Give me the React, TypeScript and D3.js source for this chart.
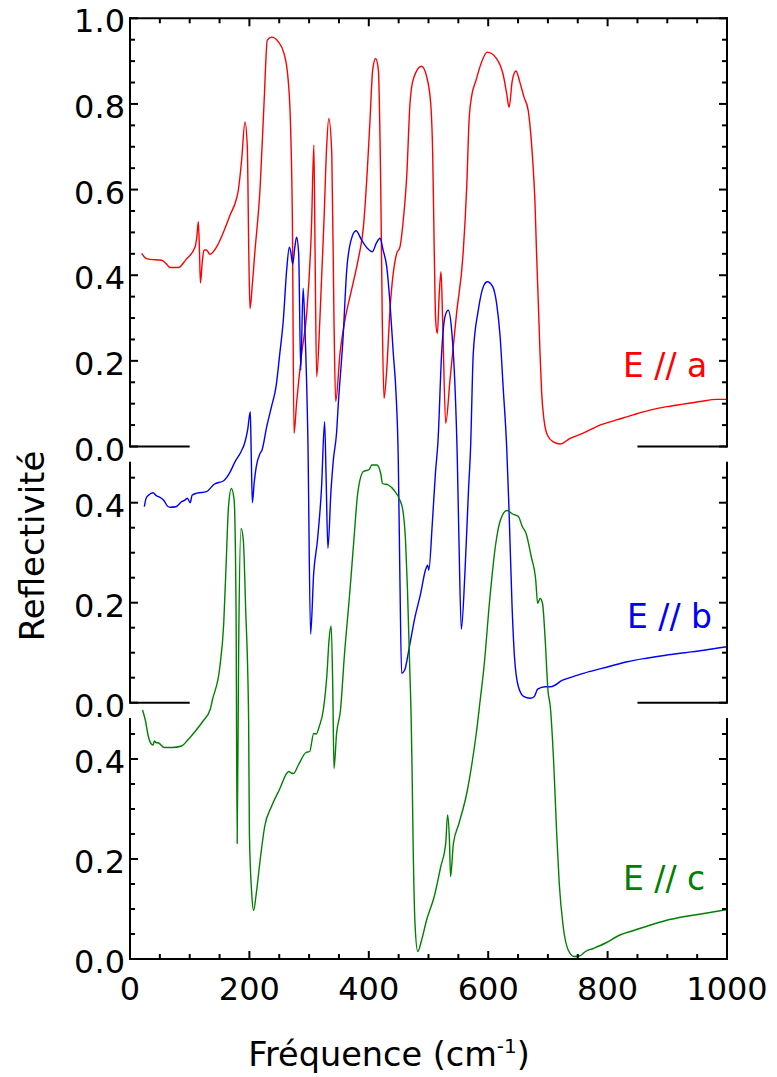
import React from "react";
import * as d3 from "d3";

const W = 777;
const H = 1077;

// Reflectivity spectra, [frequency (cm-1), reflectivity]
const specA: [number, number][] = [
  [19.6, 0.451], [26, 0.44], [33.5, 0.437], [53, 0.435], [60, 0.428], [67, 0.418], [81, 0.418],
  [94, 0.437], [109, 0.466], [112, 0.49], [114.5, 0.525], [116.5, 0.45], [118, 0.382], [121, 0.43],
  [124, 0.459], [128, 0.459], [134, 0.449], [145, 0.466], [159, 0.509], [167.5, 0.54], [177.6, 0.575],
  [181.5, 0.599], [187, 0.669], [192.6, 0.758], [196.5, 0.7], [199, 0.45], [201, 0.322], [205, 0.38],
  [209, 0.451], [218, 0.606], [224.5, 0.801], [230, 0.949], [237, 0.956], [248.5, 0.945], [258, 0.918],
  [265, 0.855], [269, 0.746], [272, 0.529], [274.7, 0.031], [279, 0.101], [287.6, 0.218], [296, 0.311],
  [304, 0.513], [308, 0.704], [310, 0.451], [312.7, 0.163], [318, 0.295], [325, 0.529], [329.4, 0.7],
  [333, 0.766], [338, 0.684], [341.7, 0.295], [344.5, 0.105], [351.8, 0.218], [360, 0.295], [371, 0.365],
  [382, 0.435], [391, 0.513], [397.5, 0.645], [402, 0.762], [406.5, 0.879], [411.5, 0.906], [416, 0.879],
  [420, 0.606], [422.6, 0.295], [425.5, 0.112], [430, 0.179], [435.5, 0.319], [446.7, 0.451], [452, 0.465],
  [457.8, 0.529], [463.5, 0.63], [469, 0.801], [475, 0.86], [488.5, 0.888], [497, 0.863], [503.7, 0.801],
  [507, 0.684], [509.7, 0.451], [512, 0.295], [514.8, 0.264], [518, 0.357], [521, 0.408], [523.7, 0.295],
  [528.8, 0.054], [536, 0.155], [547, 0.311], [558, 0.451], [564, 0.606], [568, 0.762], [572, 0.816],
  [579.6, 0.855], [586, 0.886], [598.5, 0.921], [614, 0.906], [625.3, 0.867], [631, 0.824], [635, 0.792],
  [640.4, 0.855], [646.6, 0.877], [653, 0.851], [660, 0.816], [667, 0.785], [671.7, 0.723], [675.6, 0.645],
  [678.4, 0.568], [681, 0.451], [684, 0.334], [686.8, 0.218], [689.6, 0.124], [693.5, 0.062], [699, 0.027],
  [709, 0.011], [721.4, 0.006], [737, 0.019], [759, 0.031], [787, 0.05], [815, 0.062], [843, 0.074],
  [871, 0.085], [899, 0.093], [927, 0.099], [955, 0.105], [983, 0.11], [1000, 0.11],
];

const specB: [number, number][] = [
  [24, 0.392], [27, 0.409], [31, 0.415], [38.5, 0.42], [44, 0.414], [48, 0.412], [56.4, 0.405],
  [63, 0.393], [67.3, 0.391], [77, 0.392], [86.5, 0.402], [92, 0.405], [96, 0.409], [101, 0.4],
  [104, 0.415], [112, 0.419], [128, 0.422], [141, 0.437], [157, 0.444], [166.7, 0.459], [176, 0.482],
  [186, 0.502], [192, 0.519], [197, 0.545], [201.5, 0.582], [203, 0.5], [205, 0.4], [208, 0.44],
  [211.5, 0.472], [218, 0.499], [221, 0.505], [229, 0.552], [237, 0.592], [244.6, 0.632], [251, 0.699],
  [256.8, 0.765], [262.4, 0.865], [266.9, 0.911], [269.5, 0.9], [272.5, 0.877], [276, 0.91], [279, 0.931],
  [282.5, 0.899], [286, 0.665], [290, 0.829], [293, 0.75], [298, 0.525], [302.5, 0.137], [307.7, 0.259],
  [314, 0.325], [320.6, 0.425], [326, 0.562], [328.5, 0.45], [331.5, 0.309], [336.7, 0.425], [340.6, 0.485],
  [346, 0.54], [349, 0.599], [357, 0.732], [363, 0.865], [369.6, 0.922], [378.6, 0.944], [388, 0.925],
  [397.5, 0.909], [406, 0.902], [413, 0.92], [418.8, 0.929], [424, 0.905], [430, 0.872], [435.5, 0.799],
  [441, 0.699], [445.6, 0.619], [449.4, 0.485], [452, 0.259], [455, 0.059], [460, 0.065], [468, 0.112],
  [477.5, 0.172], [487, 0.219], [494.8, 0.265], [498.7, 0.275], [500.5, 0.265], [506.4, 0.359],
  [511.6, 0.459], [516, 0.525], [522, 0.699], [527.6, 0.772], [533, 0.785], [538.8, 0.745], [544.4, 0.632],
  [548, 0.5], [551, 0.325], [555, 0.147], [561, 0.259], [567, 0.425], [570.5, 0.51], [575, 0.699],
  [583.4, 0.785], [591.8, 0.832], [598.5, 0.842], [607.5, 0.832], [614, 0.799], [620, 0.732], [625, 0.632],
  [631, 0.51], [634.7, 0.392], [640, 0.192], [644, 0.092], [650.6, 0.032], [660, 0.012], [670, 0.009],
  [677, 0.012], [682.8, 0.027], [695.5, 0.032], [705, 0.032], [724.5, 0.045], [750, 0.055], [769, 0.062],
  [801, 0.072], [833, 0.082], [865, 0.089], [897.5, 0.095], [929.5, 0.1], [961.5, 0.105], [1000, 0.112],
];

const specC: [number, number][] = [
  [21, 0.498], [25.6, 0.478], [30.8, 0.445], [35, 0.431], [38.5, 0.428], [41, 0.436], [43.5, 0.433],
  [48, 0.432], [57.6, 0.423], [70.5, 0.423], [86.6, 0.426], [96, 0.437], [109, 0.455], [121.8, 0.475],
  [134.6, 0.5], [138, 0.518], [150.6, 0.585], [157, 0.671], [161.5, 0.805], [165, 0.905], [169.8, 0.941],
  [174.4, 0.918], [177.6, 0.705], [179.5, 0.231], [182, 0.62], [186, 0.861], [189.8, 0.838], [193.6, 0.705],
  [198.7, 0.478], [200, 0.251], [203.9, 0.131], [207, 0.097], [211.5, 0.131], [218, 0.198], [225.6, 0.265],
  [237, 0.305], [250, 0.338], [266, 0.375], [270, 0.372], [274, 0.371], [282, 0.388], [294.8, 0.413],
  [301, 0.415], [307.7, 0.451], [312, 0.45], [317, 0.465], [323.8, 0.498], [330, 0.571], [333.4, 0.638],
  [337, 0.666], [339.7, 0.538], [341.7, 0.381], [346, 0.451], [352.6, 0.498], [359, 0.605], [368.5, 0.738],
  [375, 0.838], [381.4, 0.931], [391, 0.975], [400.7, 0.979], [405, 0.988], [413.4, 0.988], [420, 0.971],
  [423, 0.951], [432.7, 0.948], [442, 0.938], [452, 0.918], [457, 0.898], [461.5, 0.838], [464.8, 0.738],
  [468, 0.605], [471, 0.478], [472.4, 0.385], [474.4, 0.218], [477.6, 0.065], [482, 0.015], [488.5, 0.038],
  [496.8, 0.078], [509.6, 0.125], [520.6, 0.185], [528.8, 0.231], [532, 0.288], [535, 0.24], [537, 0.165],
  [541.7, 0.231], [551, 0.271], [564, 0.331], [573.7, 0.398], [580, 0.451], [586.6, 0.518], [593, 0.585],
  [602.5, 0.718], [612, 0.825], [620.5, 0.878], [631.5, 0.897], [641, 0.89], [650.6, 0.885], [657, 0.865],
  [663.5, 0.851], [672, 0.805], [679.6, 0.758], [682.8, 0.711], [687, 0.721], [691, 0.711], [695.5, 0.638],
  [700, 0.538], [704, 0.505], [710, 0.385], [714.7, 0.251], [719, 0.151], [725.6, 0.065], [734, 0.018],
  [743.7, 0.005], [753, 0.006], [763, 0.015], [775.6, 0.021], [795, 0.031], [820.6, 0.048], [846, 0.058],
  [872, 0.068], [897.5, 0.077], [929.5, 0.085], [961.5, 0.091], [1000, 0.099],
];

const xTickValues = [0, 200, 400, 600, 800, 1000];
const yTicksTop = [0, 0.2, 0.4, 0.6, 0.8, 1.0];
const yTicksLower = [0, 0.2, 0.4];
const seriesLabels = ["E // a", "E // b", "E // c"];
const seriesColors = ["#ff0000", "#0000ff", "#008000"];

const FONT = "'DejaVu Sans', Verdana, sans-serif";

const x = d3.scaleLinear().domain([0, 1000]).range([130, 727]);

type Panel = {
  y: d3.ScaleLinear<number, number>;
  majors: number[];
  max: number;
  top: boolean;
  bottom: boolean;
};

const panels: Panel[] = [
  { y: d3.scaleLinear().domain([0, 1]).range([446.5, 18.3]), majors: yTicksTop, max: 1, top: true, bottom: false },
  { y: d3.scaleLinear().domain([0, 0.48]).range([702.7, 462.7]), majors: yTicksLower, max: 0.48, top: false, bottom: false },
  { y: d3.scaleLinear().domain([0, 0.48]).range([959, 719]), majors: yTicksLower, max: 0.48, top: false, bottom: true },
];

const spectra = [specA, specB, specC];
const labelPos = [
  { x: 623, y: 377 },
  { x: 627, y: 628 },
  { x: 623, y: 890 },
];

const minorX = d3.range(0, 1001, 50);
const MAJ = 8;
const MIN = 5;

export default function App() {
  const left = x(0);
  const right = x(1000);
  return (
    <svg width={W} height={H} viewBox={`0 0 ${W} ${H}`} style={{ display: "block", position: "absolute", left: 0, top: 0, background: "#fff" }}>
      <rect width={W} height={H} fill="#fff" />
      {/* spectra */}
      {spectra.map((s, i) => {
        const line = d3
          .line<[number, number]>()
          .x((d) => x(d[0]))
          .y((d) => panels[i].y(d[1]))
          .curve(d3.curveMonotoneX);
        return <path key={i} d={line(s) || ""} fill="none" stroke={seriesColors[i]} strokeWidth={1.4} strokeLinejoin="round" />;
      })}
      {/* frames */}
      {panels.map((p, i) => {
        const yTop = p.y(p.max);
        const yBot = p.y(0);
        const minors = d3.range(0, p.max + 1e-9, 0.05).filter((v) => Math.abs(v / 0.2 - Math.round(v / 0.2)) > 1e-6);
        return (
          <g key={i} stroke="#000" strokeWidth={2} fill="none">
            <line x1={left} x2={left} y1={yTop} y2={yBot} strokeLinecap="square" />
            <line x1={right} x2={right} y1={yTop} y2={yBot} strokeLinecap="square" />
            {p.top && <line x1={left} x2={right} y1={yTop} y2={yTop} strokeLinecap="square" />}
            {p.bottom ? (
              <line x1={left} x2={right} y1={yBot} y2={yBot} strokeLinecap="square" />
            ) : (
              <>
                <line x1={left} x2={x(100)} y1={yBot} y2={yBot} />
                <line x1={x(850)} x2={right} y1={yBot} y2={yBot} />
              </>
            )}
            {p.majors.map((v) => (
              <g key={"M" + v}>
                <line x1={left} x2={left + MAJ} y1={p.y(v)} y2={p.y(v)} />
                <line x1={right} x2={right - MAJ} y1={p.y(v)} y2={p.y(v)} />
              </g>
            ))}
            {minors.map((v) => (
              <g key={"m" + v}>
                <line x1={left} x2={left + MIN} y1={p.y(v)} y2={p.y(v)} />
                <line x1={right} x2={right - MIN} y1={p.y(v)} y2={p.y(v)} />
              </g>
            ))}
            {(p.top || p.bottom) &&
              minorX.map((v) => {
                const len = v % 200 === 0 ? MAJ : MIN;
                const yy = p.top ? yTop : yBot;
                const dir = p.top ? 1 : -1;
                return <line key={"x" + v} x1={x(v)} x2={x(v)} y1={yy} y2={yy + dir * len} />;
              })}
          </g>
        );
      })}
      {/* y tick labels */}
      {panels.map((p, i) => (
        <g key={"yl" + i} fontFamily={FONT} fontSize={32} fill="#000" textAnchor="end">
          {p.majors.map((v) => (
            <text key={v} x={125} y={p.y(v) + 14}>
              {d3.format(".1f")(v)}
            </text>
          ))}
        </g>
      ))}
      {/* x tick labels */}
      <g fontFamily={FONT} fontSize={32} fill="#000" textAnchor="middle">
        {xTickValues.map((v) => (
          <text key={v} x={x(v)} y={1000}>
            {v}
          </text>
        ))}
      </g>
      {/* series labels */}
      {seriesLabels.map((t, i) => (
        <text key={t} x={labelPos[i].x} y={labelPos[i].y} fontFamily={FONT} fontSize={33} fill={seriesColors[i]}>
          {t}
        </text>
      ))}
      {/* axis titles */}
      <text x={389} y={1066} fontFamily={FONT} fontSize={33.5} textAnchor="middle" fill="#000">
        Fréquence (cm<tspan fontSize={20} dy={-13}>-1</tspan>
        <tspan dy={13}>)</tspan>
      </text>
      <text
        transform="translate(44,546) rotate(-90)"
        fontFamily={FONT}
        fontSize={34}
        textAnchor="middle"
        fill="#000"
      >
        Reflectivité
      </text>
    </svg>
  );
}
